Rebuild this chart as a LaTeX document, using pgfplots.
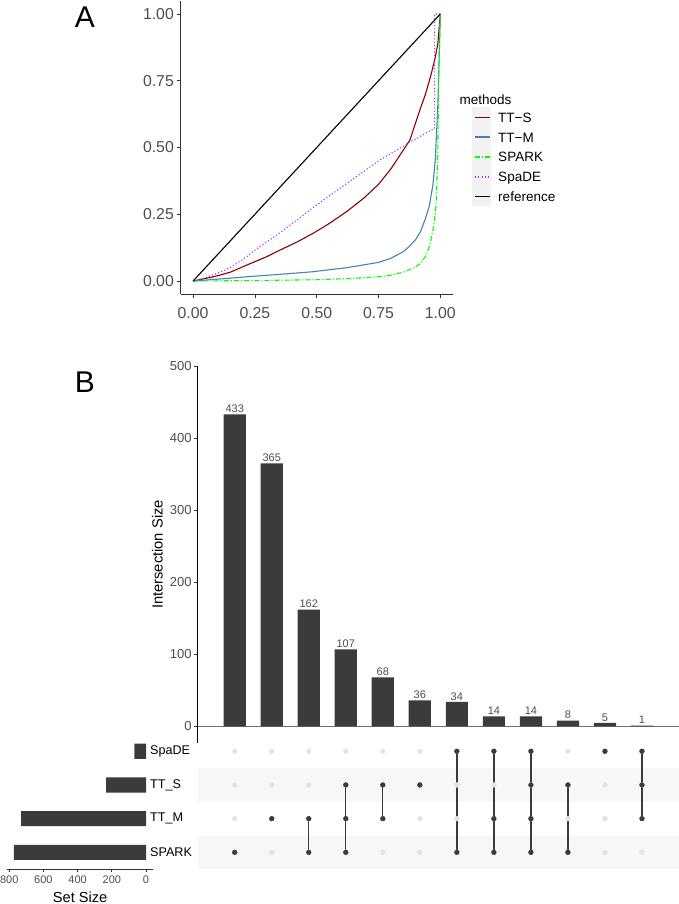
\documentclass[border=0pt]{standalone}
\usepackage{fontspec}
\setmainfont{Liberation Sans}
\usepackage{pgfplots}
\pgfplotsset{compat=1.18}
\pgfplotsset{/pgf/number format/assume math mode=true}
\definecolor{tickc}{HTML}{4D4D4D}
\definecolor{axc}{HTML}{333333}
\definecolor{ttsred}{HTML}{8B0000}
\definecolor{ttmblue}{HTML}{4682B4}
\definecolor{sparkgreen}{HTML}{00FF00}
\definecolor{spadepurple}{HTML}{9B30FF}
\definecolor{barc}{HTML}{3B3B3B}
\definecolor{keybg}{HTML}{F2F2F2}
\definecolor{stripe}{HTML}{F7F7F7}
\definecolor{emptydot}{HTML}{E3E3E3}
\definecolor{zeroline}{HTML}{707070}

\begin{document}
\begin{tikzpicture}
\useasboundingbox (0,0) rectangle (679bp,904bp);

% legend key background (panel A)
\fill[keybg] (471.7bp,697.6bp) rectangle (491bp,796.6bp);

% ---------------- Panel A ----------------
\begin{axis}[
  at={(180.7bp,609.6bp)}, anchor=south west, scale only axis,
  width=272bp, height=293.75bp,
  xmin=-0.05, xmax=1.05, ymin=-0.05, ymax=1.05,
  axis lines*=left, axis line style={-, axc, line width=0.7bp},
  tick align=outside, major tick length=4bp, tick style={axc, line width=0.7bp},
  xtick={0,0.25,0.5,0.75,1}, xticklabels={0.00,0.25,0.50,0.75,1.00},
  ytick={0,0.25,0.5,0.75,1}, yticklabels={0.00,0.25,0.50,0.75,1.00},
  tick label style={font=\fontsize{15.8bp}{18bp}\selectfont, text=tickc, inner sep=0pt},
  xticklabel style={yshift=-9bp},
  yticklabel style={xshift=-2.7bp},
  legend cell align=left,
  legend style={at={(axis description cs:1.0783,0.6366)}, anchor=north west,
    draw=none, fill=none, inner sep=0pt, row sep=0pt, column sep=0pt,
    font=\fontsize{13.5bp}{16bp}\selectfont,
    nodes={inner sep=0pt, text height=14.75bp, text depth=5.05bp}},
  legend image code/.code={\draw[#1, line width=1.6bp, line cap=butt] plot coordinates {(0bp,0bp) (7.5bp,0bp) (15bp,0bp)}; \path (22.7bp,0bp);},
  every axis plot/.append style={line width=1.1bp, line join=round},
]
\addplot[ttsred, solid] coordinates {
 (0,0) (0.083,0.016) (0.15,0.033) (0.218,0.06) (0.30,0.092) (0.352,0.116)
 (0.42,0.146) (0.486,0.179) (0.55,0.215) (0.621,0.26) (0.69,0.31) (0.75,0.362)
 (0.80,0.42) (0.85,0.49) (0.877,0.528) (0.917,0.64) (0.94,0.70) (0.964,0.778)
 (0.98,0.84) (0.99,0.89) (1,1)};
\addlegendentry{TT−S}
\addplot[ttmblue, solid] coordinates {
 (0,0) (0.1,0.007) (0.218,0.016) (0.35,0.025) (0.486,0.035) (0.621,0.05)
 (0.70,0.062) (0.75,0.07) (0.80,0.085) (0.85,0.11) (0.875,0.13) (0.90,0.155)
 (0.92,0.185) (0.94,0.235) (0.955,0.28) (0.97,0.36) (0.98,0.46) (0.99,0.66)
 (0.997,0.9) (1,1)};
\addlegendentry{TT−M}
\addplot[sparkgreen, dash pattern=on 5bp off 2bp on 1.2bp off 2bp] coordinates {
 (0,0) (0.25,0.002) (0.5,0.005) (0.65,0.01) (0.75,0.016) (0.80,0.022)
 (0.85,0.033) (0.89,0.048) (0.917,0.064) (0.94,0.092) (0.95,0.114) (0.96,0.145)
 (0.97,0.191) (0.978,0.24) (0.984,0.303) (0.99,0.49) (0.994,0.80) (1,1)};
\addlegendentry{SPARK}
\addplot[spadepurple, dash pattern=on 1.1bp off 2.2bp] coordinates {
 (0,0) (0.05,0.012) (0.1,0.03) (0.15,0.05) (0.2,0.08) (0.25,0.115) (0.35,0.18)
 (0.5,0.285) (0.621,0.365) (0.75,0.45) (0.823,0.49) (0.877,0.52) (0.977,0.572)
 (0.977,1.0) (1,1)};
\addlegendentry{SpaDE}
\addplot[black, solid] coordinates {(0,0) (1,1)};
\addlegendentry{reference}
\end{axis}

\node[anchor=base west, font=\fontsize{13.5bp}{16bp}\selectfont] at (456bp,799.1bp) {methods};
\node[font=\fontsize{30bp}{34bp}\selectfont] at (85bp,886.5bp) {A};
\node[font=\fontsize{30bp}{34bp}\selectfont] at (85bp,521.7bp) {B};

% ---------------- Panel B: intersection bars ----------------
\begin{axis}[
  at={(197.7bp,161bp)}, anchor=south west, scale only axis,
  width=481.3bp, height=377bp,
  xmin=0, xmax=13, ymin=-23, ymax=500,
  axis y line*=left, axis x line=none,
  axis line style={-, black, line width=0.7bp},
  ytick={0,100,200,300,400,500},
  tick align=outside, major tick length=3.4bp, tick style={axc, line width=0.7bp},
  yticklabel style={font=\fontsize{13bp}{15bp}\selectfont, text=tickc, inner sep=0pt, xshift=-2.6bp},
  ylabel={Intersection Size},
  every axis y label/.style={at={(axis description cs:-0.0839,0.5)}, rotate=90, anchor=center,
    font=\fontsize{14.7bp}{17bp}\selectfont},
  ybar, bar width=0.6,
  nodes near coords,
  nodes near coords style={font=\fontsize{11bp}{13bp}\selectfont, text=tickc, inner sep=1.5bp},
]
\addplot[zeroline, line width=1.5bp, forget plot, sharp plot, nodes near coords={}] coordinates {(0,0) (13,0)};
\addplot[fill=barc, draw=none] coordinates {
 (1,433) (2,365) (3,162) (4,107) (5,68) (6,36) (7,34) (8,14) (9,14) (10,8) (11,5) (12,1)};
\end{axis}

% ---------------- Panel B: matrix ----------------
\begin{axis}[
  at={(197.7bp,34.8bp)}, anchor=south west, scale only axis,
  width=481.3bp, height=134.8bp,
  xmin=0, xmax=13, ymin=0.5, ymax=4.5,
  axis line style={draw=none}, xtick=\empty,
  ytick={1,2,3,4}, yticklabels={SPARK,TT\_M,TT\_S,SpaDE},
  major tick length=0pt, tick style={draw=none},
  yticklabel style={font=\fontsize{12.6bp}{15bp}\selectfont, text=black, anchor=west, inner sep=0pt, xshift=-47.7bp},
  clip=false,
]
\fill[stripe] (axis cs:0,0.5) rectangle (axis cs:13,1.5);
\fill[stripe] (axis cs:0,2.5) rectangle (axis cs:13,3.5);
\addplot[only marks, mark=*, mark size=2.4bp, emptydot] coordinates {
 (1,1) (2,1) (3,1) (4,1) (5,1) (6,1) (7,1) (8,1) (9,1) (10,1) (11,1) (12,1)
 (1,2) (2,2) (3,2) (4,2) (5,2) (6,2) (7,2) (8,2) (9,2) (10,2) (11,2) (12,2)
 (1,3) (2,3) (3,3) (4,3) (5,3) (6,3) (7,3) (8,3) (9,3) (10,3) (11,3) (12,3)
 (1,4) (2,4) (3,4) (4,4) (5,4) (6,4) (7,4) (8,4) (9,4) (10,4) (11,4) (12,4)};
\addplot[barc, line width=1.3bp, unbounded coords=jump] coordinates {
 (3,1) (3,2) (3,nan) (4,1) (4,3) (4,nan) (5,2) (5,3) (5,nan)
 (7,1) (7,4) (7,nan) (8,1) (8,4) (8,nan) (9,1) (9,4) (9,nan)
 (10,1) (10,3) (10,nan) (12,2) (12,4)};
\addplot[only marks, mark=*, mark size=2.4bp, barc] coordinates {
 (1,1) (2,2) (3,1) (3,2) (4,1) (4,2) (4,3) (5,2) (5,3) (6,3)
 (7,1) (7,4) (8,1) (8,2) (8,4) (9,1) (9,2) (9,3) (9,4)
 (10,1) (10,3) (11,4) (12,2) (12,3) (12,4)};
\end{axis}

% ---------------- Panel B: set sizes ----------------
\begin{axis}[
  at={(7.5bp,34.8bp)}, anchor=south west, scale only axis,
  width=145.2bp, height=134.8bp,
  xmin=-39, xmax=810, x dir=reverse, ymin=0.5, ymax=4.5,
  axis x line*=bottom, axis y line=none,
  axis line style={-, axc, line width=0.7bp},
  xtick={0,200,400,600,800},
  tick align=outside, major tick length=3bp, tick style={axc, line width=0.7bp},
  xticklabel style={font=\fontsize{11bp}{13bp}\selectfont, text=tickc, inner sep=0pt, yshift=-3.8bp},
  xlabel={Set Size},
  every axis x label/.style={at={(axis description cs:0.5,-0.205)}, anchor=center,
    font=\fontsize{14.6bp}{17bp}\selectfont},
  xbar, bar width=0.45,
]
\addplot[fill=barc, draw=none] coordinates {(772,1) (731,2) (234,3) (68,4)};
\end{axis}
\end{tikzpicture}
\end{document}
